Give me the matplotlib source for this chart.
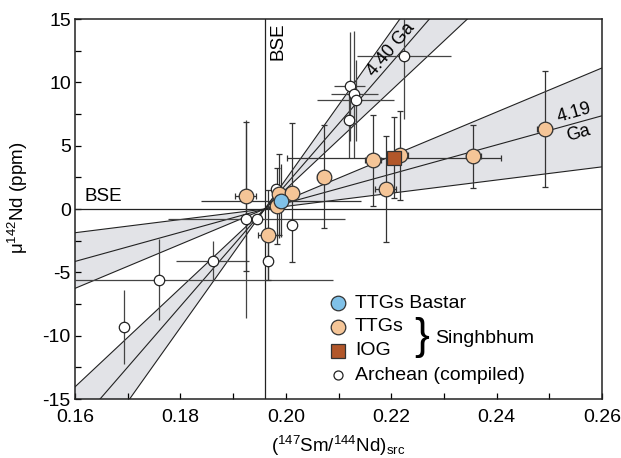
import numpy as np
import matplotlib
matplotlib.use("Agg")
import matplotlib.pyplot as plt
from matplotlib.ticker import MultipleLocator, FormatStrFormatter

plt.rcParams['font.family'] = ['Liberation Sans', 'DejaVu Sans']
plt.rcParams['mathtext.fontset'] = 'custom'
plt.rcParams['mathtext.rm'] = 'Liberation Sans'
plt.rcParams['mathtext.it'] = 'Liberation Sans:italic'
plt.rcParams['axes.unicode_minus'] = False

# BSE reference and isochron fans (pivot at BSE)
bse_x = 0.196
bse_y = 0.0
slopes_440 = [390, 480, 585]    # lower edge, age line, upper edge
slopes_419 = [52, 115, 174]

# Archean (compiled)
arch_x = [0.1693, 0.1759, 0.1861, 0.1924, 0.1945, 0.1966, 0.1982, 0.2011,
          0.2121, 0.2130, 0.2133, 0.2120, 0.2225]
arch_y = [-9.3, -5.6, -4.1, -0.8, -0.8, -4.1, 1.6, -1.3,
          9.7, 9.05, 8.6, 7.0, 12.1]
arch_yerr = [2.9, 3.2, 1.6, 7.8, 0, 1.5, 0, 0, 4.3, 5.0, 3.2, 3.0, 5.0]
arch_xerr = [0, 0.033, 0.007, 0, 0.0168, 0, 0, 0, 0.003, 0.0044, 0.0073, 0, 0.0089]

# TTGs Singhbhum
ttg_x = [0.1924, 0.1967, 0.1983, 0.1987, 0.2011, 0.2072, 0.2165, 0.2190,
         0.2216, 0.2356, 0.2491]
ttg_y = [1.0, -2.05, 0.25, 1.15, 1.3, 2.55, 3.85, 1.6, 4.25, 4.15, 6.3]
ttg_yerr = [5.9, 3.55, 3.0, 3.2, 5.5, 4.05, 3.6, 4.2, 3.5, 2.5, 4.6]
ttg_xerr = [0.002, 0.002, 0.001, 0.001, 0.001, 0.0012, 0.0015, 0.002, 0.0015, 0.0015, 0.0015]

# TTGs Bastar
bastar_x = [0.1991]
bastar_y = [0.66]
bastar_yerr = [2.9]
bastar_xerr = [0.0152]

# IOG Singhbhum
iog_x = [0.2205]
iog_y = [4.03]
iog_yerr = [3.2]
iog_xerr = [0.0203]

fig = plt.figure(figsize=(6.21, 4.58), dpi=100)
ax = fig.add_axes([0.1208, 0.1288, 0.8486, 0.8297])

xs = np.linspace(0.15, 0.27, 200)
band_col = '#E2E3E7'
for slopes in (slopes_440, slopes_419):
    lo = bse_y + slopes[0] * (xs - bse_x)
    hi = bse_y + slopes[2] * (xs - bse_x)
    ax.fill_between(xs, lo, hi, color=band_col, lw=0, zorder=1)
    for s in slopes:
        ax.plot(xs, bse_y + s * (xs - bse_x), color='#222222', lw=0.8, zorder=2)

ax.axhline(bse_y, color='#222222', lw=0.9, zorder=2)
ax.axvline(bse_x, color='#222222', lw=0.9, zorder=2)

ebc = '#333333'
ax.errorbar(arch_x, arch_y, yerr=arch_yerr, xerr=arch_xerr, fmt='none',
            ecolor='#444444', elinewidth=0.9, capsize=0, zorder=3)
ax.errorbar(ttg_x, ttg_y, yerr=ttg_yerr, xerr=ttg_xerr, fmt='none',
            ecolor=ebc, elinewidth=0.9, capsize=2.2, capthick=0.9, zorder=3)
ax.errorbar(iog_x, iog_y, yerr=iog_yerr, xerr=iog_xerr, fmt='none',
            ecolor=ebc, elinewidth=0.9, capsize=2.2, capthick=0.9, zorder=3)
ax.errorbar(bastar_x, bastar_y, yerr=bastar_yerr, xerr=bastar_xerr, fmt='none',
            ecolor=ebc, elinewidth=0.9, capsize=0, zorder=3)

ax.plot(arch_x, arch_y, 'o', ms=7.5, mfc='white', mec='#222222', mew=0.9, zorder=4)
ax.plot(ttg_x, ttg_y, 'o', ms=10.5, mfc='#F5C597', mec='#333333', mew=0.9, zorder=5)
ax.plot(iog_x, iog_y, 's', ms=10.5, mfc='#B2572A', mec='#333333', mew=0.9, zorder=6)
ax.plot(bastar_x, bastar_y, 'o', ms=10.5, mfc='#80C1E8', mec='#333333', mew=0.9, zorder=6)

# labels on plot
ax.text(0.1618, 0.35, 'BSE', fontsize=13.5, ha='left', va='bottom')
ax.text(0.1985, 14.7, 'BSE', fontsize=13.5, rotation=90, ha='center', va='top')
ax.text(0.2200, 12.6, '4.40 Ga', fontsize=13, rotation=50, ha='center', va='center',
        rotation_mode='anchor')
ax.text(0.2548, 7.6, '4.19', fontsize=13, rotation=16, ha='center', va='center',
        rotation_mode='anchor')
ax.text(0.2556, 6.0, 'Ga', fontsize=13, rotation=16, ha='center', va='center',
        rotation_mode='anchor')

# legend
lx, tx = 0.4996, 0.531
t = ax.transAxes
ax.plot([lx], [0.252], 'o', ms=10.5, mfc='#80C1E8', mec='#333333', mew=0.9, transform=t, clip_on=False)
ax.plot([lx], [0.190], 'o', ms=10.5, mfc='#F5C597', mec='#333333', mew=0.9, transform=t, clip_on=False)
ax.plot([lx], [0.127], 's', ms=10, mfc='#B2572A', mec='#333333', mew=0.9, transform=t, clip_on=False)
ax.plot([lx], [0.063], 'o', ms=6.5, mfc='white', mec='#222222', mew=0.9, transform=t, clip_on=False)
lf = 14
ax.text(tx, 0.252, 'TTGs Bastar', fontsize=lf, transform=t, va='center')
ax.text(tx, 0.190, 'TTGs', fontsize=lf, transform=t, va='center')
ax.text(tx, 0.127, 'IOG', fontsize=lf, transform=t, va='center')
ax.text(tx, 0.063, 'Archean (compiled)', fontsize=lf, transform=t, va='center')
ax.text(0.657, 0.162, '}', fontsize=32, transform=t, va='center', ha='center')
ax.text(0.683, 0.158, 'Singhbhum', fontsize=lf, transform=t, va='center')

ax.set_xlim(0.16, 0.26)
ax.set_ylim(-15, 15)
ax.xaxis.set_major_locator(MultipleLocator(0.02))
ax.xaxis.set_minor_locator(MultipleLocator(0.01))
ax.yaxis.set_major_locator(MultipleLocator(5))
ax.yaxis.set_minor_locator(MultipleLocator(2.5))
ax.xaxis.set_major_formatter(FormatStrFormatter('%.2f'))
ax.tick_params(which='both', direction='in', length=4, width=0.9, labelsize=14)
ax.tick_params(axis='x', pad=7)
ax.tick_params(axis='y', pad=3)
for sp in ax.spines.values():
    sp.set_linewidth(1.1)
    sp.set_color('#222222')

ax.set_xlabel('($^{147}$Sm/$^{144}$Nd)$_{\\rm src}$', fontsize=13.5, labelpad=6)
ax.set_ylabel('μ$^{142}$Nd (ppm)', fontsize=13.5, labelpad=4)
ax.yaxis.set_label_coords(-0.085, 0.53)

fig.savefig('out.png', dpi=100)
